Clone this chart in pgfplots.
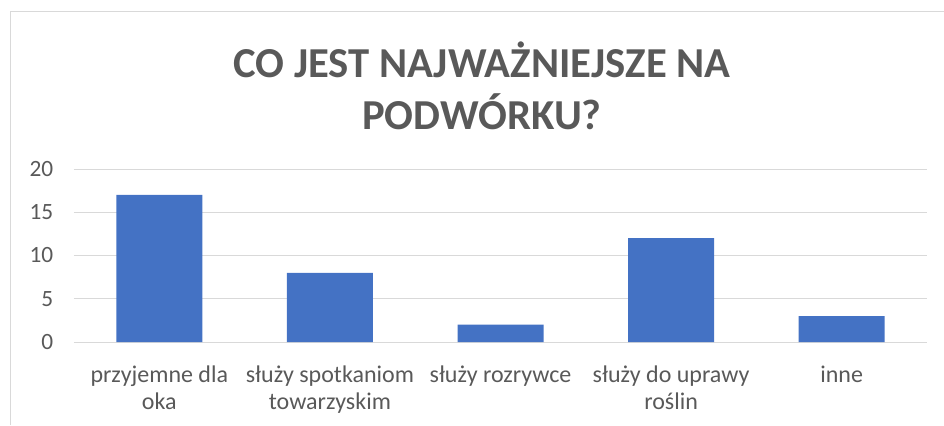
\documentclass[border=0pt]{standalone}
\usepackage{fontspec}
\setmainfont{Carlito}
\usepackage{pgfplots}
\pgfplotsset{compat=1.18}
\definecolor{barc}{HTML}{4472C4}
\definecolor{gridc}{HTML}{D9D9D9}
\definecolor{txtc}{HTML}{595959}
\begin{document}
\begin{tikzpicture}
\path[use as bounding box] (0,0) rectangle (708pt,318.75pt);
% chart frame (only top and left edges are inside the picture)
\draw[gridc, line width=0.75pt] (7.5pt,0) -- (7.5pt,309.75pt) -- (708pt,309.75pt);
\node[text=txtc, font=\fontsize{32pt}{39pt}\selectfont\bfseries, align=center]
  at (361.5pt,254.25pt) {CO JEST NAJWAŻNIEJSZE NA\\PODWÓRKU?};
\begin{axis}[
  at={(55.5pt,62.25pt)}, anchor=south west,
  scale only axis,
  width=639.75pt, height=129.75pt,
  ybar, bar width=64.5pt,
  xmin=-0.5, xmax=4.5,
  ymin=0, ymax=20,
  ytick={0,5,10,15,20},
  xtick={0,1,2,3,4},
  xticklabels={{przyjemne dla\\oka},{służy spotkaniom\\towarzyskim},{służy rozrywce},{służy do uprawy\\roślin},{inne}},
  xticklabel style={align=center, font=\fontsize{18pt}{20pt}\selectfont, text=txtc, anchor=north, yshift=-14.5pt},
  yticklabel style={font=\fontsize{17.5pt}{20pt}\selectfont, text=txtc, xshift=-12pt},
  /pgf/number format/assume math mode=true,
  axis line style={draw=none},
  major tick length=0pt,
  ymajorgrids,
  grid style={gridc, line width=0.75pt},
  clip=false,
]
\addplot[fill=barc, draw=none] coordinates {(0,17) (1,8) (2,2) (3,12) (4,3)};
\end{axis}
\end{tikzpicture}
\end{document}
